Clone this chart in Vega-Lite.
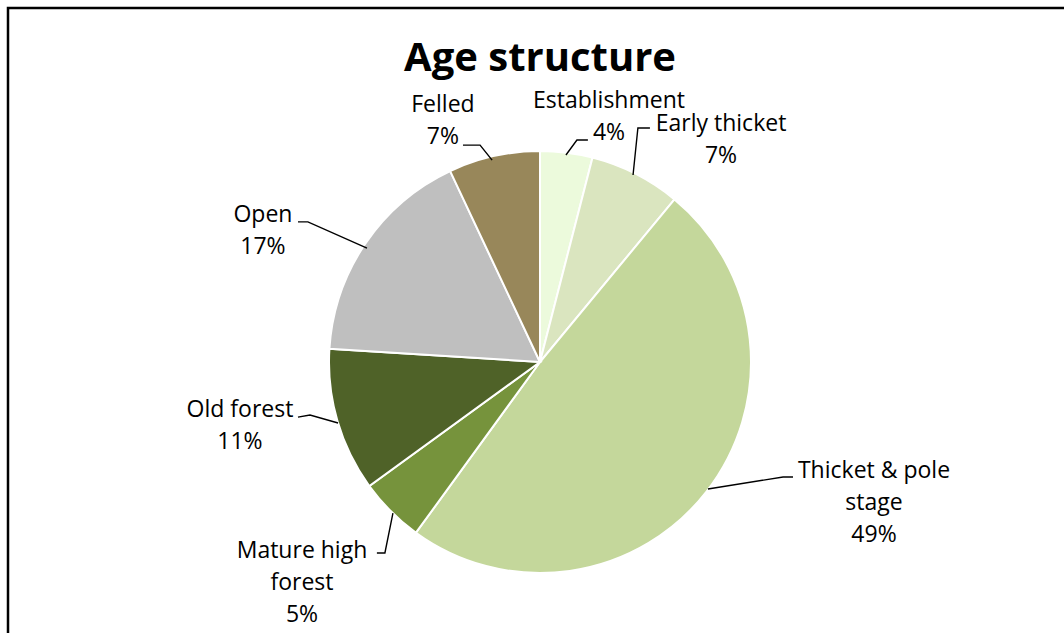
{
  "$schema": "https://vega.github.io/schema/vega-lite/v6.json",
  "width": 1058,
  "height": 627,
  "autosize": {"type": "none"},
  "padding": {"left": 8, "top": 8, "right": 0, "bottom": 0},
  "background": "white",
  "config": {"view": {"stroke": "#000000", "strokeWidth": 2.5}, "font": "Open Sans"},
  "title": {"text": "Age structure", "font": "Open Sans", "fontSize": 40, "fontWeight": "bold", "color": "#000000", "anchor": "middle", "frame": "group", "offset": -64, "baseline": "alphabetic", "dx": 3, "dy": 39},
  "datasets": {
    "slices": [
      {"category": "Establishment", "share": 4, "order": 1},
      {"category": "Early thicket", "share": 7, "order": 2},
      {"category": "Thicket & pole stage", "share": 49, "order": 3},
      {"category": "Mature high forest", "share": 5, "order": 4},
      {"category": "Old forest", "share": 11, "order": 5},
      {"category": "Open", "share": 17, "order": 6},
      {"category": "Felled", "share": 7, "order": 7}
    ],
    "labels": [
      {"category": "Establishment", "text": "Establishment\n4%", "x": 0.327, "y": 1.204},
      {"category": "Early thicket", "text": "Early thicket\n7%", "x": 0.858, "y": 1.095},
      {"category": "Thicket & pole stage", "text": "Thicket & pole\nstage\n49%", "x": 1.583, "y": -0.55},
      {"category": "Mature high forest", "text": "Mature high\nforest\n5%", "x": -1.128, "y": -0.929},
      {"category": "Old forest", "text": "Old forest\n11%", "x": -1.422, "y": -0.261},
      {"category": "Open", "text": "Open\n17%", "x": -1.313, "y": 0.664},
      {"category": "Felled", "text": "Felled\n7%", "x": -0.46, "y": 1.185}
    ],
    "leaders": [
      {"category": "Felled", "step": 1, "x": -0.365, "y": 1.028},
      {"category": "Felled", "step": 2, "x": -0.284, "y": 1.028},
      {"category": "Felled", "step": 3, "x": -0.227, "y": 0.957},
      {"category": "Establishment", "step": 1, "x": 0.123, "y": 0.981},
      {"category": "Establishment", "step": 2, "x": 0.175, "y": 1.052},
      {"category": "Establishment", "step": 3, "x": 0.227, "y": 1.052},
      {"category": "Early thicket", "step": 1, "x": 0.441, "y": 0.886},
      {"category": "Early thicket", "step": 2, "x": 0.464, "y": 1.109},
      {"category": "Early thicket", "step": 3, "x": 0.521, "y": 1.109},
      {"category": "Open", "step": 1, "x": -1.147, "y": 0.664},
      {"category": "Open", "step": 2, "x": -1.1, "y": 0.664},
      {"category": "Open", "step": 3, "x": -0.82, "y": 0.54},
      {"category": "Old forest", "step": 1, "x": -1.147, "y": -0.261},
      {"category": "Old forest", "step": 2, "x": -1.09, "y": -0.251},
      {"category": "Old forest", "step": 3, "x": -0.957, "y": -0.289},
      {"category": "Mature high forest", "step": 1, "x": -0.773, "y": -0.905},
      {"category": "Mature high forest", "step": 2, "x": -0.735, "y": -0.905},
      {"category": "Mature high forest", "step": 3, "x": -0.697, "y": -0.716},
      {"category": "Thicket & pole stage", "step": 1, "x": 0.796, "y": -0.602},
      {"category": "Thicket & pole stage", "step": 2, "x": 1.152, "y": -0.545},
      {"category": "Thicket & pole stage", "step": 3, "x": 1.199, "y": -0.545}
    ]
  },
  "layer": [
    {
      "data": {"name": "slices"},
      "mark": {"type": "arc", "outerRadius": 211, "stroke": "#ffffff", "strokeWidth": 2},
      "encoding": {
        "theta": {"field": "share", "type": "quantitative", "stack": true},
        "order": {"field": "order", "type": "quantitative"},
        "color": {
          "field": "category", "type": "nominal", "legend": null,
          "scale": {
            "domain": ["Establishment", "Early thicket", "Thicket & pole stage", "Mature high forest", "Old forest", "Open", "Felled"],
            "range": ["#ecfadc", "#dae5bf", "#c4d79b", "#76933c", "#4f6228", "#bfbfbf", "#98875a"]
          }
        },
        "x": {"datum": 0, "type": "quantitative", "axis": null, "scale": {"domain": [-2.5213, 2.4929], "nice": false, "zero": false}},
        "y": {"datum": 0, "type": "quantitative", "axis": null, "scale": {"domain": [-1.2938, 1.6777], "nice": false, "zero": false}}
      }
    },
    {
      "data": {"name": "leaders"},
      "mark": {"type": "line", "color": "#000000", "strokeWidth": 1.4},
      "encoding": {
        "x": {"field": "x", "type": "quantitative", "axis": null, "scale": {"domain": [-2.5213, 2.4929], "nice": false, "zero": false}},
        "y": {"field": "y", "type": "quantitative", "axis": null, "scale": {"domain": [-1.2938, 1.6777], "nice": false, "zero": false}},
        "detail": {"field": "category", "type": "nominal"},
        "order": {"field": "step", "type": "quantitative"}
      }
    },
    {
      "data": {"name": "labels"},
      "mark": {"type": "text", "align": "center", "baseline": "alphabetic", "fontSize": 23, "lineBreak": "\n", "lineHeight": 32, "color": "#000000", "font": "Open Sans"},
      "encoding": {
        "x": {"field": "x", "type": "quantitative", "axis": null, "scale": {"domain": [-2.5213, 2.4929], "nice": false, "zero": false}},
        "y": {"field": "y", "type": "quantitative", "axis": null, "scale": {"domain": [-1.2938, 1.6777], "nice": false, "zero": false}},
        "text": {"field": "text", "type": "nominal"}
      }
    }
  ]
}
